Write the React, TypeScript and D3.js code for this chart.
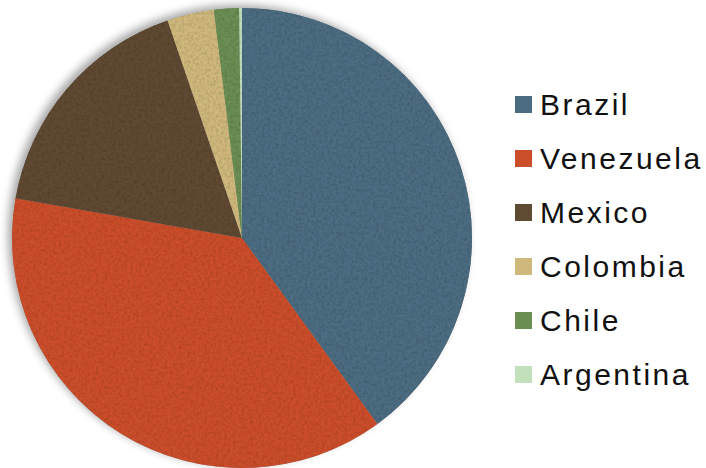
import React from "react";
import * as d3 from "d3";

const categories = ["Brazil", "Venezuela", "Mexico", "Colombia", "Chile", "Argentina"];
const values = [40.0, 37.8, 17.0, 3.3, 1.75, 0.2];
const colors = ["#4b6c81", "#cb4e2b", "#5f4a32", "#cfb87c", "#6a8e52", "#c3e0bd"];

export default function App() {
  const width = 706;
  const height = 468;
  const cx = 242;
  const cy = 238;
  const r = 230;
  const pie = d3.pie<number>().sort(null).value((d) => d)(values);
  const arc = d3.arc<d3.PieArcDatum<number>>().innerRadius(0).outerRadius(r);
  const legendY = d3.scalePoint<string>().domain(categories).range([104, 374]);

  return (
    <svg width={width} height={height} style={{ position: "absolute", left: 0, top: 0 }}>
      <defs>
        <filter id="shadow" x="-10%" y="-10%" width="120%" height="120%">
          <feDropShadow dx={-4} dy={-3} stdDeviation={4} floodColor="#000" floodOpacity={0.35} />
        </filter>
        <filter id="tex" x="0" y="0" width="100%" height="100%">
          <feTurbulence type="fractalNoise" baseFrequency="0.35" numOctaves={3} seed={4} result="noise" />
          <feColorMatrix in="noise" type="matrix"
            values="0 0 0 0 0  0 0 0 0 0  0 0 0 0 0  0 0 0 -1.6 1.0" result="dark" />
          <feComposite in="dark" in2="SourceGraphic" operator="in" result="darkIn" />
          <feComponentTransfer in="darkIn" result="darkSoft">
            <feFuncA type="linear" slope={0.35} />
          </feComponentTransfer>
          <feMerge>
            <feMergeNode in="SourceGraphic" />
            <feMergeNode in="darkSoft" />
          </feMerge>
        </filter>
      </defs>
      <rect width={width} height={height} fill="#fff" />
      <g transform={`translate(${cx},${cy})`}>
        <circle r={r} fill="#888" filter="url(#shadow)" />
        <g filter="url(#tex)">
          {pie.map((p, i) => (
            <path key={categories[i]} d={arc(p) || ""} fill={colors[i]} />
          ))}
        </g>
      </g>
      <g>
        {categories.map((c, i) => (
          <g key={c} transform={`translate(0,${legendY(c)})`}>
            <rect x={515} y={-8} width={17} height={17} fill={colors[i]} />
            <text x={540} y={0} dy="0.36em" fontFamily="'Liberation Sans', Arial, sans-serif"
              fontSize={30} fill="#111" letterSpacing={2.5}>{c}</text>
          </g>
        ))}
      </g>
    </svg>
  );
}
